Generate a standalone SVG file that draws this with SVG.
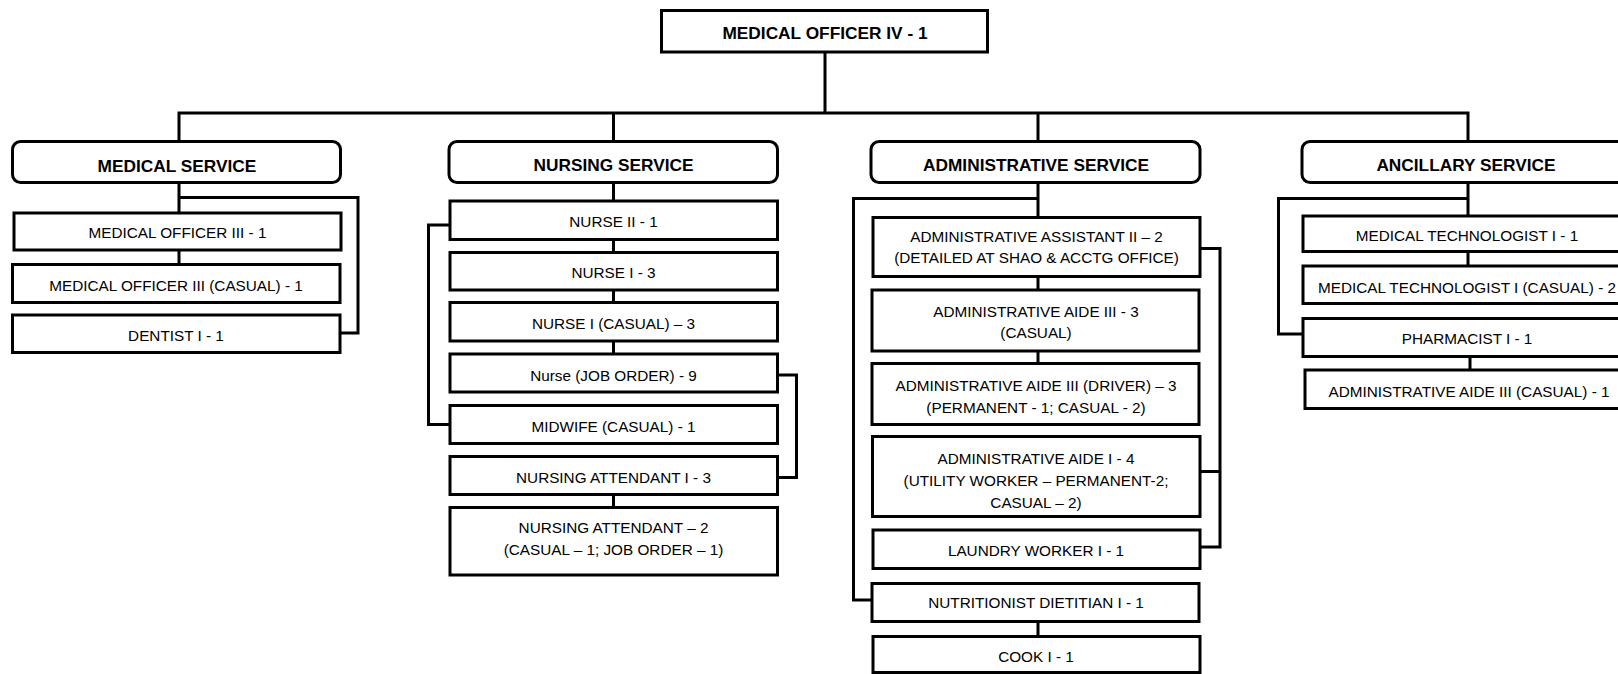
<svg xmlns="http://www.w3.org/2000/svg" width="1618" height="674" viewBox="0 0 1618 674">
  <style>
    .box { fill: #ffffff; stroke: #000000; stroke-width: 3; }
    .wire { fill: none; stroke: #000000; stroke-width: 3; stroke-linejoin: miter; }
    .t { font-family: "Liberation Sans", Arial, sans-serif; font-size: 15.3px; fill: #000000; text-anchor: middle; }
    .h { font-family: "Liberation Sans", Arial, sans-serif; font-size: 17.3px; font-weight: bold; fill: #000000; text-anchor: middle; }
  </style>
  <rect width="1618" height="674" fill="#ffffff"/>

  <!-- connectors -->
  <g id="connectors" class="wire">
    <!-- head to service bus -->
    <path d="M825 52 V113 M179 141.5 V113 H1468 V141.5 M613.5 113 V141.5 M1038 113 V141.5"/>
    <!-- medical service -->
    <path d="M179 182.5 V213 M179 197.5 H358 V333 H340 M179 250 V264.5"/>
    <!-- nursing service -->
    <path d="M613.5 182.5 V201 M613.5 239.5 V252.5 M613.5 290 V302.5 M613.5 341 V354 M613.5 494.5 V507.5"/>
    <path d="M450 225 H428.5 V424.5 H450"/>
    <path d="M777.5 375 H796.5 V477.5 H777.5"/>
    <!-- administrative service -->
    <path d="M1038 182.5 V217.5 M1038 276.5 V290 M1038 351 V363.5 M1038 621.5 V636.5"/>
    <path d="M1038 198.5 H853.5 V600 H872"/>
    <path d="M1200 248.5 H1220 V547 H1200 M1200 471.5 H1220"/>
    <!-- ancillary service -->
    <path d="M1468 182.5 V216 M1468 251.5 V266 M1470 356.5 V370"/>
    <path d="M1468 198.5 H1278.5 V334 H1303"/>
  </g>

  <!-- head -->
  <g id="medical-officer-iv">
    <rect class="box" x="661.5" y="10.5" width="326" height="41.5"/>
    <text class="h" x="825" y="39.3">MEDICAL OFFICER IV - 1</text>
  </g>

  <!-- medical service -->
  <g id="medical-service">
    <rect class="box" x="12.5" y="141.5" width="328" height="41" rx="8"/>
    <text class="h" x="177" y="171.5">MEDICAL SERVICE</text>
  </g>
  <g id="medical-officer-iii">
    <rect class="box" x="14" y="213" width="327" height="37"/>
    <text class="t" x="177.5" y="238.3">MEDICAL OFFICER III - 1</text>
  </g>
  <g id="medical-officer-iii-casual">
    <rect class="box" x="12.5" y="264.5" width="327.5" height="38"/>
    <text class="t" x="176" y="290.7">MEDICAL OFFICER III (CASUAL) - 1</text>
  </g>
  <g id="dentist-i">
    <rect class="box" x="12.5" y="315" width="327.5" height="37.5"/>
    <text class="t" x="176" y="341">DENTIST I - 1</text>
  </g>

  <!-- nursing service -->
  <g id="nursing-service">
    <rect class="box" x="449" y="141.5" width="328.5" height="41" rx="8"/>
    <text class="h" x="613.5" y="170.7">NURSING SERVICE</text>
  </g>
  <g id="nurse-ii">
    <rect class="box" x="450" y="201" width="327.5" height="38.5"/>
    <text class="t" x="613.5" y="227.3">NURSE II - 1</text>
  </g>
  <g id="nurse-i">
    <rect class="box" x="450" y="252.5" width="327.5" height="37.5"/>
    <text class="t" x="613.5" y="278.3">NURSE I - 3</text>
  </g>
  <g id="nurse-i-casual">
    <rect class="box" x="450" y="302.5" width="327.5" height="38.5"/>
    <text class="t" x="613.5" y="329">NURSE I (CASUAL) – 3</text>
  </g>
  <g id="nurse-job-order">
    <rect class="box" x="450" y="354" width="327.5" height="38"/>
    <text class="t" x="613.5" y="380.7">Nurse (JOB ORDER) - 9</text>
  </g>
  <g id="midwife-casual">
    <rect class="box" x="450" y="405.5" width="327.5" height="38"/>
    <text class="t" x="613.5" y="431.7">MIDWIFE (CASUAL) - 1</text>
  </g>
  <g id="nursing-attendant-i">
    <rect class="box" x="450" y="456.5" width="327.5" height="38"/>
    <text class="t" x="613.5" y="483.3">NURSING ATTENDANT I - 3</text>
  </g>
  <g id="nursing-attendant">
    <rect class="box" x="450" y="507.5" width="327.5" height="67.5"/>
    <text class="t" x="613.5" y="533.3">NURSING ATTENDANT – 2</text>
    <text class="t" x="613.5" y="555.3">(CASUAL – 1; JOB ORDER – 1)</text>
  </g>

  <!-- administrative service -->
  <g id="administrative-service">
    <rect class="box" x="871" y="141.5" width="329" height="41" rx="8"/>
    <text class="h" x="1036" y="170.7">ADMINISTRATIVE SERVICE</text>
  </g>
  <g id="administrative-assistant-ii">
    <rect class="box" x="873" y="217.5" width="327" height="59"/>
    <text class="t" x="1036.5" y="242.3">ADMINISTRATIVE ASSISTANT II – 2</text>
    <text class="t" x="1036.5" y="263.3">(DETAILED AT SHAO &amp; ACCTG OFFICE)</text>
  </g>
  <g id="administrative-aide-iii">
    <rect class="box" x="872" y="290" width="327" height="61"/>
    <text class="t" x="1036" y="316.7">ADMINISTRATIVE AIDE III - 3</text>
    <text class="t" x="1036" y="337.5">(CASUAL)</text>
  </g>
  <g id="administrative-aide-iii-driver">
    <rect class="box" x="872" y="363.5" width="327" height="61"/>
    <text class="t" x="1036" y="391">ADMINISTRATIVE AIDE III (DRIVER) – 3</text>
    <text class="t" x="1036" y="412.5">(PERMANENT - 1; CASUAL - 2)</text>
  </g>
  <g id="administrative-aide-i">
    <rect class="box" x="872.5" y="436.5" width="327.5" height="80"/>
    <text class="t" x="1036" y="463.5">ADMINISTRATIVE AIDE I - 4</text>
    <text class="t" x="1036" y="485.5">(UTILITY WORKER – PERMANENT-2;</text>
    <text class="t" x="1036" y="507.5">CASUAL – 2)</text>
  </g>
  <g id="laundry-worker-i">
    <rect class="box" x="873" y="530" width="327" height="38.5"/>
    <text class="t" x="1036" y="555.7">LAUNDRY WORKER I - 1</text>
  </g>
  <g id="nutritionist-dietitian-i">
    <rect class="box" x="872" y="583.5" width="327" height="38"/>
    <text class="t" x="1036" y="608.3">NUTRITIONIST DIETITIAN I - 1</text>
  </g>
  <g id="cook-i">
    <rect class="box" x="873" y="636.5" width="327" height="36"/>
    <text class="t" x="1036" y="661.7">COOK I - 1</text>
  </g>

  <!-- ancillary service -->
  <g id="ancillary-service">
    <rect class="box" x="1302" y="141.5" width="330" height="41" rx="8"/>
    <text class="h" x="1466" y="170.7">ANCILLARY SERVICE</text>
  </g>
  <g id="medical-technologist-i">
    <rect class="box" x="1303" y="216" width="330" height="35.5"/>
    <text class="t" x="1467" y="240.7">MEDICAL TECHNOLOGIST I - 1</text>
  </g>
  <g id="medical-technologist-i-casual">
    <rect class="box" x="1303" y="266" width="330" height="37.5"/>
    <text class="t" x="1467" y="292.7">MEDICAL TECHNOLOGIST I (CASUAL) - 2</text>
  </g>
  <g id="pharmacist-i">
    <rect class="box" x="1303" y="318.5" width="330" height="38"/>
    <text class="t" x="1467" y="344.3">PHARMACIST I - 1</text>
  </g>
  <g id="administrative-aide-iii-casual">
    <rect class="box" x="1305" y="370" width="330" height="38.5"/>
    <text class="t" x="1469" y="396.5">ADMINISTRATIVE AIDE III (CASUAL) - 1</text>
  </g>
</svg>
